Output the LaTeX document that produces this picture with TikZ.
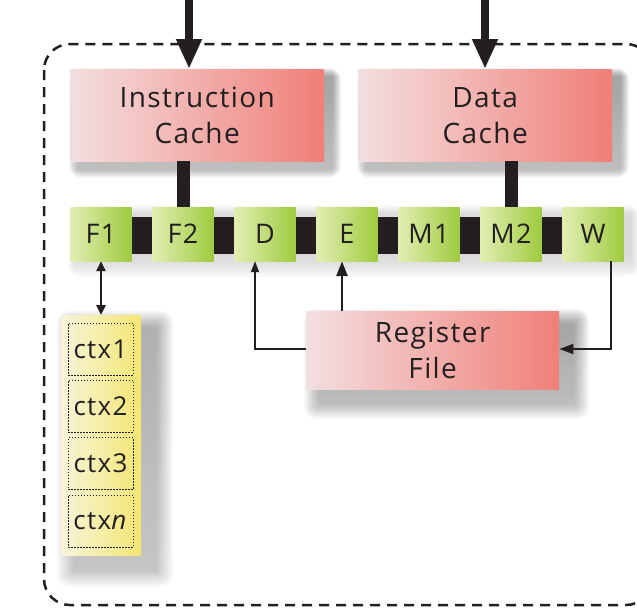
\documentclass[tikz,border=0pt]{standalone}
\usepackage{fontspec}
\setmainfont[LetterSpace=5]{Open Sans}
\usetikzlibrary{arrows.meta,calc}
\definecolor{ink}{HTML}{231F20}
\definecolor{redL}{HTML}{F3DFE0}
\definecolor{redR}{HTML}{F07F78}
\definecolor{grnL}{HTML}{E2EEB3}
\definecolor{grnR}{HTML}{9FCB3F}
\definecolor{ylwL}{HTML}{F7F4DA}
\definecolor{ylwR}{HTML}{F3E672}
\definecolor{shade}{HTML}{6E7180}
\newcommand\softshade[7]{% x1 y1 x2 y2 offset spread opacity
  \foreach \k in {1,...,12}{%
    \fill[shade, opacity=#7, rounded corners=\k pt] ({#1+#5-#6*\k/12},{#2+#5-#6*\k/12}) rectangle ({#3+#5+#6*\k/12},{#4+#5+#6*\k/12});}}
\tikzset{
  cachebox/.style={draw=none, left color=redL, right color=redR, text=ink,
    minimum width=254pt, minimum height=92pt, align=center, inner sep=0pt,
    font=\fontsize{28}{36}\selectfont},
  stagebox/.style={draw=none, left color=grnL, right color=grnR, text=ink,
    minimum width=61pt, minimum height=54pt, inner sep=0pt,
    font=\fontsize{27}{30}\selectfont},
  ctxcol/.style={draw=none, left color=ylwL, right color=ylwR,
    minimum width=80pt, minimum height=240pt, inner sep=0pt},
  ctxbox/.style={draw=ink, line width=1pt, dash pattern=on 1.5pt off 1.5pt,
    minimum width=65pt, minimum height=52pt, inner sep=0pt, text=ink,
    font=\fontsize{26}{28}\selectfont},
  bigarrow/.style={draw=ink, line width=8pt, -{Triangle[length=30pt,width=24pt]}},
  thinarrow/.style={draw=ink, line width=1.6pt, -{Triangle[length=11pt,width=8pt]}},
  midarrow/.style={draw=ink, line width=2.8pt, -{Triangle[length=15pt,width=11pt]}},
  border/.style={draw=ink, line width=2.5pt, dash pattern=on 10pt off 7pt, rounded corners=26pt},
  bus/.style={draw=ink, line width=37pt},
  link/.style={draw=ink, line width=13pt},
}
\begin{document}
\begin{tikzpicture}[x=1pt,y=-1pt]
\useasboundingbox (0,0) rectangle (637,614);
\fill[white] (0,0) rectangle (637,614);
\draw[border] (44,44) rectangle (652,605);
% soft shadows
\softshade{70}{69}{324}{161}{8}{9}{0.022}
\softshade{358}{69}{612}{161}{8}{9}{0.022}
\softshade{306}{311}{559}{389}{14}{16}{0.022}
\softshade{61}{315}{141}{555}{14}{18}{0.02}
\softshade{70}{207}{624}{261}{7}{9}{0.008}
% bus behind the stages
\coordinate (busL) at (101,235.5);
\coordinate (busR) at (593,235.5);
\draw[bus] (busL) -- (busR);
% caches
\node[cachebox, anchor=north west] (ic) at (70,69) {Instruction\\Cache};
\node[cachebox, anchor=north west] (dc) at (358,69) {Data\\Cache};
% register file
\node[cachebox, minimum width=253pt, minimum height=78pt, anchor=north west] (rf) at (306,311) {Register\\File};
% pipeline stages
\node[stagebox] (F1) at (101,234) {F1};
\node[stagebox] (F2) at (183,234) {F2};
\node[stagebox] (D)  at (265,234) {D};
\node[stagebox] (E)  at (347,234) {E};
\node[stagebox] (M1) at (429,234) {M1};
\node[stagebox] (M2) at (511,234) {M2};
\node[stagebox] (W)  at (593,234) {W};
% cache to bus links
\draw[link] (F2.north) -- (F2.north |- ic.south);
\draw[link] (M2.north) -- (M2.north |- dc.south);
% context column
\node[ctxcol, anchor=north west] (ctx) at (61,315) {};
\node[ctxbox] (c1) at (100.5,349) {ctx1};
\node[ctxbox] (c2) at (100.5,406) {ctx2};
\node[ctxbox] (c3) at (100.5,463.5) {ctx3};
\node[ctxbox] (cn) at (100.5,521) {ctx\textit{n}};
% incoming arrows
\coordinate (ictop) at (189,0);
\coordinate (dctop) at (485,0);
\draw[bigarrow] (ictop) -- (ictop |- ic.north);
\draw[bigarrow] (dctop) -- (dctop |- dc.north);
% register file arrows
\coordinate (dx) at (255,349);
\coordinate (ex) at (342,0);
\coordinate (wx) at (611,349);
\draw[thinarrow] (rf.west |- dx) -- (dx) -- (dx |- D.south);
\draw[midarrow] (ex |- rf.north) -- (ex |- E.south);
\draw[thinarrow, -{Triangle[length=14pt,width=10pt]}] (wx |- W.south) -- (wx) -- (rf.east |- wx);
% F1 <-> contexts
\draw[draw=ink, line width=2.6pt, {Triangle[length=10pt,width=9pt]}-{Triangle[length=10pt,width=9pt]}] (F1.south) -- (F1.south |- ctx.north);
\end{tikzpicture}
\end{document}
